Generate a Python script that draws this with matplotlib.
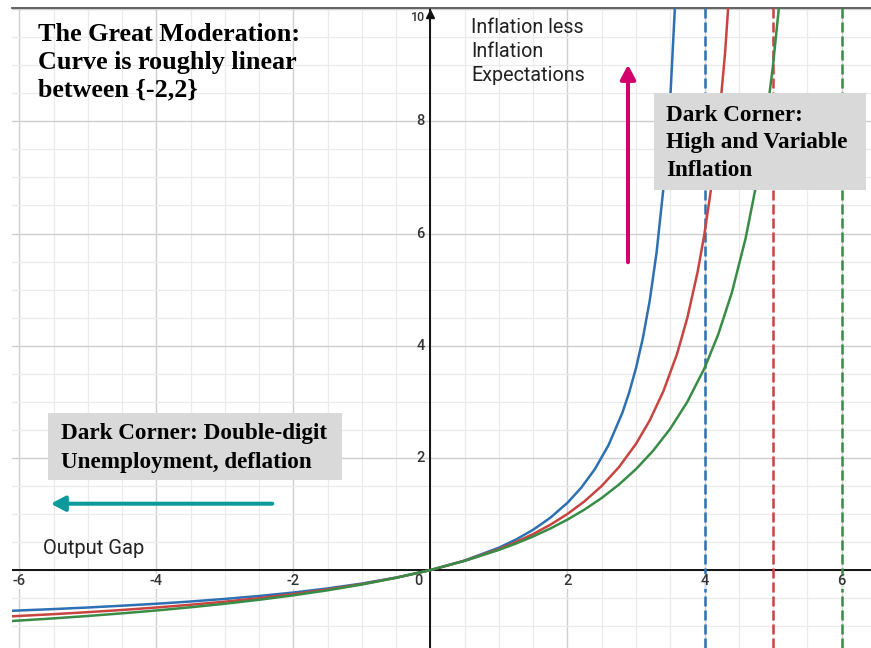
import matplotlib
matplotlib.use("Agg")
import matplotlib.pyplot as plt
from matplotlib.patches import Rectangle, FancyArrowPatch

# ---- data ----
blue_x = [-6.2, -5.5, -5, -4.5, -4, -3.5, -3, -2.5, -2, -1.5, -1, -0.5, 0, 0.5, 1, 1.25, 1.5, 1.75,
          2, 2.2, 2.4, 2.6, 2.8, 2.9, 3.0, 3.1, 3.2, 3.3, 3.4, 3.5, 3.6]
blue_y = [-0.73, -0.695, -0.667, -0.635, -0.6, -0.56, -0.514, -0.462, -0.4, -0.327, -0.24, -0.133, 0,
          0.171, 0.4, 0.545, 0.72, 0.933, 1.2, 1.467, 1.8, 2.229, 2.8, 3.164, 3.6, 4.133, 4.8, 5.657,
          6.8, 8.4, 10.8]

red_x = [-6.2, -5.5, -5, -4.5, -4, -3.5, -3, -2.5, -2, -1.5, -1, -0.5, 0, 0.5, 1, 1.25, 1.5, 1.75,
         2, 2.25, 2.5, 2.75, 3, 3.2, 3.4, 3.6, 3.75, 3.9, 4.0, 4.1, 4.2, 4.3, 4.4]
red_y = [-0.83, -0.786, -0.75, -0.711, -0.667, -0.618, -0.563, -0.5, -0.429, -0.346, -0.25, -0.136, 0,
         0.167, 0.375, 0.5, 0.643, 0.808, 1.0, 1.227, 1.5, 1.833, 2.25, 2.667, 3.188, 3.857, 4.5,
         5.318, 6.0, 6.833, 7.875, 9.214, 11.0]

green_x = [-6.2, -5.5, -5, -4.5, -4, -3.5, -3, -2.5, -2, -1.5, -1, -0.5, 0, 0.5, 1, 1.25, 1.5, 1.75,
           2, 2.25, 2.5, 2.75, 3, 3.25, 3.5, 3.75, 4, 4.2, 4.4, 4.6, 4.75, 4.9, 5.0, 5.1, 5.2]
green_y = [-0.915, -0.861, -0.818, -0.771, -0.72, -0.663, -0.6, -0.529, -0.45, -0.36, -0.257, -0.138, 0,
           0.164, 0.36, 0.474, 0.6, 0.741, 0.9, 1.08, 1.286, 1.523, 1.8, 2.127, 2.52, 3.0, 3.6, 4.2,
           4.95, 5.914, 6.84, 8.018, 9.0, 10.2, 11.7]

asymptotes = [4, 5, 6]
x_tick_labels = [-6, -4, -2, 2, 4, 6]
y_tick_labels = [2, 4, 6, 8, 10]

BLUE, RED, GREEN = "#2d70b3", "#c74440", "#388c46"

W, H = 871, 648
fig = plt.figure(figsize=(W / 100, H / 100), dpi=100)
ax = fig.add_axes([12 / W, 0, (W - 12) / W, (H - 8) / H])
ax.set_xlim(-6.107, 6.43)
ax.set_ylim(-1.389, 10.02)

# grid
minor_x = [i * 0.5 for i in range(-12, 13)]
minor_y = [i * 0.5 for i in range(-2, 21)]
for v in minor_x:
    major = (v % 2 == 0)
    ax.axvline(v, color="#cfcfcf" if major else "#ebebeb", lw=1.0 if major else 0.9, zorder=0)
for v in minor_y:
    major = (v % 2 == 0)
    ax.axhline(v, color="#cfcfcf" if major else "#ebebeb", lw=1.0 if major else 0.9, zorder=0)

for s in ["left", "right", "bottom"]:
    ax.spines[s].set_visible(False)
ax.spines["top"].set_color("#555555")
ax.spines["top"].set_linewidth(1.3)
ax.set_xticks([])
ax.set_yticks([])

# axes lines
ax.axhline(0, color="#111111", lw=1.4, zorder=2)
ax.axvline(0, color="#111111", lw=1.4, zorder=2)
ax.plot([0], [9.92], marker="^", ms=6, color="#111111", zorder=3, clip_on=False)

# tick labels
for v in x_tick_labels:
    ax.text(v, -0.2, str(v), ha="center", va="center", fontsize=10.5, color="#333333",
            family="Roboto", fontweight="medium", zorder=4,
            bbox=dict(boxstyle="square,pad=0.05", fc="white", ec="none", alpha=0.8))
for v in y_tick_labels:
    ax.text(-0.08, v if v < 10 else 9.85, str(v), ha="right", va="center", fontsize=10.5 if v < 10 else 9,
            color="#333333", family="Roboto", fontweight="medium", zorder=4)
ax.text(-0.12, -0.2, "0", ha="right", va="center", fontsize=10.5, color="#333333", family="Roboto",
        fontweight="medium", zorder=4)

# asymptotes
for a, c in zip(asymptotes, [BLUE, RED, GREEN]):
    ax.axvline(a, color=c, lw=1.8, dashes=(4, 1.6), zorder=3)

# curves
ax.plot(blue_x, blue_y, color=BLUE, lw=1.8, zorder=5, solid_joinstyle="round")
ax.plot(red_x, red_y, color=RED, lw=1.8, zorder=5, solid_joinstyle="round")
ax.plot(green_x, green_y, color=GREEN, lw=1.8, zorder=5, solid_joinstyle="round")


def fx(px):
    return px / W


def fy(py):
    return 1 - py / H


serif = dict(family="Liberation Serif", fontweight="bold", color="black")
sans = dict(family="Roboto", color="#222222")

# title text
for i, line in enumerate(["The Great Moderation:", "Curve is roughly linear", "between {-2,2}"]):
    fig.text(fx(38), fy(40.7 + 28 * i), line, fontsize=18.8, va="baseline", ha="left", **serif, zorder=6)

# y-axis label
for i, line in enumerate(["Inflation less", "Inflation", "Expectations"]):
    fig.text(fx(471), fy(32.7 + 24 * i), line, fontsize=14.2, va="baseline", ha="left", **sans, zorder=6)

fig.text(fx(42.5), fy(554), "Output Gap", fontsize=14.5, va="baseline", ha="left", **sans, zorder=6)

# right box
fig.patches.append(Rectangle((fx(654), fy(190)), 212 / W, 97 / H, transform=fig.transFigure,
                             fc="#d9d9d9", ec="none", zorder=5))
for i, line in enumerate(["Dark Corner:", "High and Variable", "Inflation"]):
    fig.text(fx(666), fy(120.7 + 27.7 * i), line, fontsize=16.7, va="baseline", ha="left", **serif, zorder=6)

# lower box
fig.patches.append(Rectangle((fx(47.5), fy(480)), 294 / W, 67 / H, transform=fig.transFigure,
                             fc="#d9d9d9", ec="none", zorder=5))
for i, line in enumerate(["Dark Corner: Double-digit", "Unemployment, deflation"]):
    fig.text(fx(60.5), fy(439.3 + 28.4 * i), line, fontsize=16.7, va="baseline", ha="left", **serif, zorder=6)

# arrows
fig.patches.append(FancyArrowPatch((fx(628), fy(265)), (fx(628), fy(62)), transform=fig.transFigure,
                                   arrowstyle="-|>,head_length=3.4,head_width=1.8", lw=2.9,
                                   color="#d1006a", mutation_scale=2.5, zorder=7))
fig.patches.append(FancyArrowPatch((fx(275), fy(503.7)), (fx(48), fy(503.7)), transform=fig.transFigure,
                                   arrowstyle="-|>,head_length=3.4,head_width=1.8", lw=2.9,
                                   color="#0a9a9c", mutation_scale=2.5, zorder=7))

fig.savefig("out.png", dpi=100)
